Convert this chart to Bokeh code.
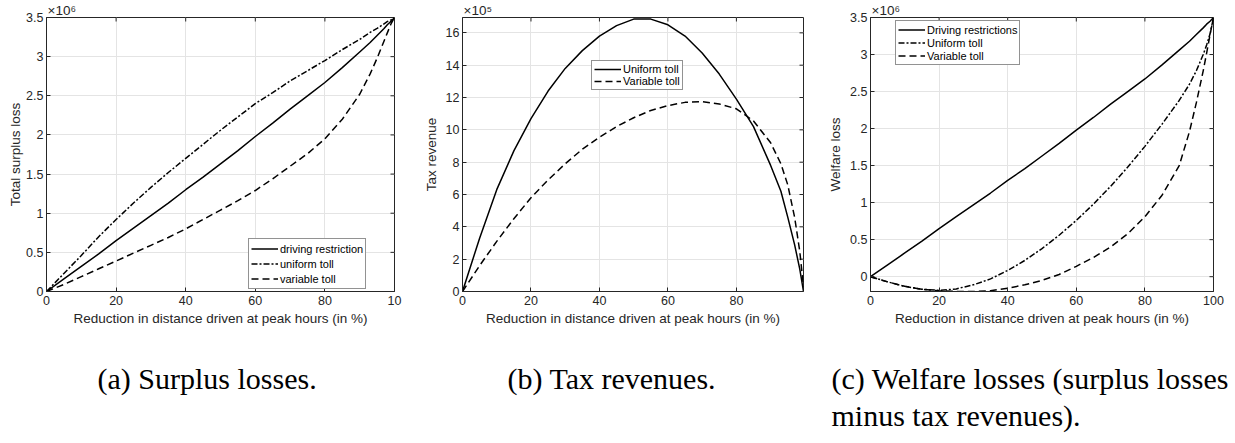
import math

from bokeh.core.properties import value
from bokeh.embed import file_html
from bokeh.layouts import column, row
from bokeh.models import FixedTicker, Range1d
from bokeh.plotting import figure
from bokeh.resources import INLINE

# ---------------------------------------------------------------------------
# Data: reduction in distance driven at peak hours (%) and outcome curves
# ---------------------------------------------------------------------------
reduction = [0, 5, 10, 15, 20, 25, 30, 35, 40, 45, 50, 55, 60, 65, 70, 75,
             80, 85, 90, 93, 95, 97, 98, 99, 100]

# (a) total surplus loss, x 10^6
surplus_restriction = [0, 0.16, 0.32, 0.48, 0.65, 0.81, 0.97, 1.13, 1.30, 1.46,
                       1.63, 1.80, 1.98, 2.15, 2.33, 2.50, 2.67, 2.86, 3.06,
                       3.18, 3.27, 3.36, 3.41, 3.45, 3.50]
surplus_uniform = [0, 0.23, 0.46, 0.70, 0.92, 1.13, 1.33, 1.52, 1.70, 1.88,
                   2.06, 2.23, 2.40, 2.54, 2.69, 2.82, 2.95, 3.09, 3.22,
                   3.31, 3.36, 3.42, 3.45, 3.47, 3.50]
surplus_variable = [0, 0.09, 0.19, 0.29, 0.39, 0.49, 0.59, 0.69, 0.80, 0.92,
                    1.04, 1.16, 1.29, 1.44, 1.60, 1.76, 1.95, 2.20, 2.52,
                    2.78, 2.98, 3.20, 3.31, 3.42, 3.50]

# (b) tax revenue, x 10^5
reduction_tax = [0, 5, 10, 15, 20, 25, 30, 35, 40, 45, 50, 55, 60, 65, 70, 75,
                 80, 85, 90, 93, 95, 97, 98.5, 99.6]
tax_uniform = [0, 3.3, 6.3, 8.7, 10.7, 12.4, 13.8, 14.9, 15.8, 16.45, 16.85,
               16.85, 16.5, 15.8, 14.75, 13.45, 11.9, 10.2, 7.8, 6.2, 4.6,
               2.9, 1.4, 0]
tax_variable = [0, 1.6, 3.1, 4.5, 5.8, 6.9, 7.9, 8.8, 9.55, 10.2, 10.75, 11.2,
                11.5, 11.7, 11.75, 11.6, 11.3, 10.55, 9.2, 7.9, 6.6, 4.6,
                2.5, 0.3]

# (c) welfare loss, x 10^6
welfare_restriction = [0, 0.16, 0.32, 0.48, 0.65, 0.81, 0.97, 1.13, 1.30, 1.46,
                       1.63, 1.80, 1.98, 2.15, 2.33, 2.50, 2.67, 2.86, 3.06,
                       3.18, 3.27, 3.36, 3.41, 3.45, 3.50]
welfare_uniform = [0, -0.07, -0.13, -0.17, -0.185, -0.165, -0.11, -0.03, 0.085,
                   0.22, 0.38, 0.56, 0.76, 0.98, 1.22, 1.48, 1.76, 2.06, 2.38,
                   2.60, 2.78, 3.00, 3.13, 3.28, 3.50]
welfare_variable = [0, -0.07, -0.13, -0.17, -0.19, -0.2, -0.2, -0.19, -0.155,
                    -0.11, -0.05, 0.03, 0.14, 0.26, 0.40, 0.58, 0.81, 1.10,
                    1.50, 1.96, 2.35, 2.78, 3.02, 3.27, 3.50]

x_ticks = [0, 20, 40, 60, 80, 100]
y_ticks_a = [0, 0.5, 1, 1.5, 2, 2.5, 3, 3.5]
y_ticks_b = [0, 2, 4, 6, 8, 10, 12, 14, 16]
y_ticks_c = [0, 0.5, 1, 1.5, 2, 2.5, 3, 3.5]

x_title = "Reduction in distance driven at peak hours (in %)"
captions = ["(a) Surplus losses.", "(b) Tax revenues.",
            "(c) Welfare losses (surplus losses", "minus tax revenues)."]

# ---------------------------------------------------------------------------
# Styling
# ---------------------------------------------------------------------------
AX = "#262626"
GRID = "#e4e4e4"
SANS = "Liberation Sans"
SERIF = "Liberation Serif"
SOLID = "solid"
DASHDOT = "6 2 2 2"
DASHED = "7 4"
ROW_H = 345


def make_panel(width, left, right, xr, yr, xt, yt, ylabel, ylabel_standoff,
               multiplier):
    p = figure(width=width, height=ROW_H, output_backend="svg",
               toolbar_location=None, title=multiplier,
               x_range=Range1d(*xr), y_range=Range1d(*yr),
               min_border_left=left, min_border_right=right,
               min_border_top=17, min_border_bottom=ROW_H - 291)
    p.background_fill_color = "white"
    p.border_fill_color = "white"
    p.outline_line_color = AX
    p.outline_line_width = 1

    # axis multiplier shown above the top-left corner
    p.title.align = "left"
    p.title.offset = 1
    p.title.standoff = 0
    p.title.text_font = SANS
    p.title.text_font_size = "13.5px"
    p.title.text_font_style = "normal"
    p.title.text_color = AX

    p.xaxis.ticker = FixedTicker(ticks=xt)
    p.yaxis.ticker = FixedTicker(ticks=yt)
    for ax in (p.xaxis[0], p.yaxis[0]):
        ax.major_tick_in = 4
        ax.major_tick_out = 0
        ax.minor_tick_line_color = None
        ax.axis_line_color = AX
        ax.major_tick_line_color = AX
        ax.major_label_text_font = SANS
        ax.major_label_text_font_size = "12.5px"
        ax.major_label_text_color = AX
        ax.axis_label_text_font = SANS
        ax.axis_label_text_font_size = "13.5px"
        ax.axis_label_text_font_style = "normal"
        ax.axis_label_text_color = AX
    p.xaxis.major_label_standoff = 4
    p.xaxis.axis_label_standoff = 3
    p.yaxis.major_label_standoff = 3
    p.yaxis.axis_label_standoff = ylabel_standoff
    p.xaxis.axis_label = x_title
    p.yaxis.axis_label = ylabel

    p.xgrid.ticker = FixedTicker(ticks=xt)
    p.ygrid.ticker = FixedTicker(ticks=yt)
    p.xgrid.grid_line_color = GRID
    p.ygrid.grid_line_color = GRID

    # inward ticks on the top and right sides of the box
    top = [t for t in xt if xr[0] < t < xr[1]]
    right_t = [t for t in yt if yr[0] < t < yr[1]]
    p.scatter(top, [yr[1]] * len(top), marker="dash", size=8,
              angle=math.pi / 2, line_color=AX, line_width=1)
    p.scatter([xr[1]] * len(right_t), right_t, marker="dash", size=8,
              line_color=AX, line_width=1)
    return p


def style_legend(p, loc, row_h):
    lg = p.legend[0]
    lg.location = loc
    lg.label_text_font = SANS
    lg.label_text_font_size = "11px"
    lg.label_text_color = "black"
    lg.glyph_width = 27
    lg.glyph_height = row_h
    lg.label_height = row_h
    lg.label_standoff = 2
    lg.padding = 2
    lg.spacing = 0
    lg.margin = 0
    lg.border_line_color = AX
    lg.border_line_width = 1
    lg.background_fill_color = "white"
    lg.background_fill_alpha = 1


# (a) surplus losses
pa = make_panel(420, 46, 26, (0, 100), (0, 3.5), x_ticks, y_ticks_a,
                "Total surplus loss", 0, "×10⁶")
pa.xaxis.major_label_overrides = {100: "10"}
pa.line(reduction, surplus_restriction, line_color="black", line_width=1.5,
        line_dash=SOLID, legend_label="driving restriction")
pa.line(reduction, surplus_uniform, line_color="black", line_width=1.5,
        line_dash=DASHDOT, legend_label="uniform toll")
pa.line(reduction, surplus_variable, line_color="black", line_width=1.5,
        line_dash=DASHED, legend_label="variable toll")
style_legend(pa, (202, 2), 15)

# (b) tax revenues
pb = make_panel(405, 36, 22, (0, 99.6), (0, 16.95), x_ticks, y_ticks_b,
                "Tax revenue", 4, "×10⁵")
pb.line(reduction_tax, tax_uniform, line_color="black", line_width=1.5,
        line_dash=SOLID, legend_label="Uniform toll")
pb.line(reduction_tax, tax_variable, line_color="black", line_width=1.5,
        line_dash=DASHED, legend_label="Variable toll")
style_legend(pb, (129, 201), 12)

# (c) welfare losses
pc = make_panel(410, 41, 22, (0, 100), (-0.2, 3.5), x_ticks, y_ticks_c,
                "Welfare loss", 4, "×10⁶")
pc.line(reduction, welfare_restriction, line_color="black", line_width=1.5,
        line_dash=SOLID, legend_label="Driving restrictions")
pc.line(reduction, welfare_uniform, line_color="black", line_width=1.5,
        line_dash=DASHDOT, legend_label="Uniform toll")
pc.line(reduction, welfare_variable, line_color="black", line_width=1.5,
        line_dash=DASHED, legend_label="Variable toll")
style_legend(pc, (25, 226), 13)

# sub-figure captions, in a pixel-scaled strip under the panels
cap_h = 443 - ROW_H
cap = figure(width=1235, height=cap_h, output_backend="svg", title=None,
             toolbar_location=None, x_range=Range1d(0, 1235),
             y_range=Range1d(0, cap_h), min_border=0)
cap.axis.visible = False
cap.grid.visible = False
cap.outline_line_color = None
cap.background_fill_color = "white"
cap.border_fill_color = "white"
cap.text(x=[97, 507, 831, 831], y=[65, 65, 65, 28], text=captions,
         text_font=value(SERIF), text_font_size="30px", text_color="black",
         text_baseline="alphabetic", text_align="left")

layout = column(row(pa, pb, pc, spacing=0), cap, spacing=0)

with open("out.html", "w") as f:
    f.write(file_html(layout, INLINE))
